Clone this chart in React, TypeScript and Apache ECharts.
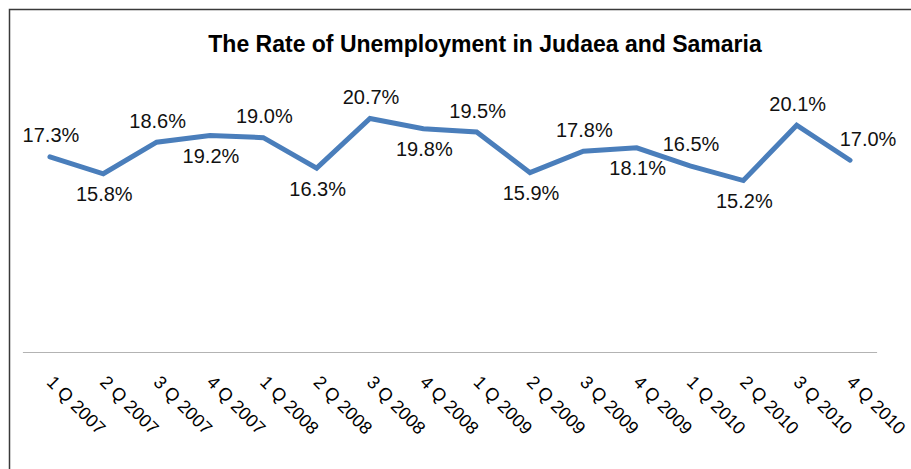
import React, { useEffect, useRef } from "react";
import * as echarts from "echarts";

const categories = [
  "1 Q 2007", "2 Q 2007", "3 Q 2007", "4 Q 2007",
  "1 Q 2008", "2 Q 2008", "3 Q 2008", "4 Q 2008",
  "1 Q 2009", "2 Q 2009", "3 Q 2009", "4 Q 2009",
  "1 Q 2010", "2 Q 2010", "3 Q 2010", "4 Q 2010",
];
const unemploymentRate = [
  17.3, 15.8, 18.6, 19.2, 19.0, 16.3, 20.7, 19.8,
  19.5, 15.9, 17.8, 18.1, 16.5, 15.2, 20.1, 17.0,
];
const titleText = "The Rate of Unemployment in Judaea and Samaria";

const FONT = "'Liberation Sans', Arial, sans-serif";

export default function App() {
  const ref = useRef<HTMLDivElement>(null);
  useEffect(() => {
    if (!ref.current) return;
    const chart = echarts.init(ref.current, undefined, { renderer: "svg" });
    const last = unemploymentRate.length - 1;
    const data = unemploymentRate.map((v, i) => {
      const above = i === last || i % 2 === 0;
      return {
        value: v,
        label: above
          ? { position: "top", distance: 11, offset: i === last ? [18, 0] : [1, 0] }
          : { position: "bottom", distance: 10, offset: [1, 0] },
      };
    });
    chart.setOption({
      animation: false,
      backgroundColor: "#ffffff",
      title: {
        text: titleText,
        left: 480,
        top: 27,
        textAlign: "center",
        textStyle: { fontFamily: FONT, fontSize: 23, fontWeight: "bold", color: "#000000" },
      },
      graphic: [
        {
          type: "rect",
          shape: { x: 9.5, y: 9.5, width: 1200, height: 1200 },
          style: { fill: "none", stroke: "#3a3a3a", lineWidth: 1.5 },
          silent: true,
        },
      ],
      grid: {
        left: 23.3,
        right: 34.3,
        top: 70,
        bottom: 117,
        containLabel: false,
        outerBoundsMode: "none",
      },
      xAxis: {
        type: "category",
        data: categories,
        boundaryGap: true,
        axisLine: { show: true, lineStyle: { color: "#b3b3b3", width: 1 } },
        axisTick: { show: false },
        axisLabel: {
          interval: 0,
          rotate: -45,
          margin: 27,
          fontFamily: FONT,
          fontSize: 18,
          color: "#000000",
        },
        splitLine: { show: false },
      },
      yAxis: {
        type: "value",
        min: 0,
        max: 25,
        show: false,
        splitLine: { show: false },
      },
      series: [
        {
          type: "line",
          data,
          showSymbol: true,
          symbol: "circle",
          symbolSize: 1,
          itemStyle: { color: "#4A7EBB" },
          lineStyle: { color: "#4A7EBB", width: 5, cap: "round", join: "miter" },
          label: {
            show: true,
            fontFamily: FONT,
            fontSize: 20,
            color: "#111111",
            formatter: (p: any) => Number(p.value).toFixed(1) + "%",
          },
        },
      ],
    });
    return () => chart.dispose();
  }, []);
  return (
    <div
      ref={ref}
      style={{ position: "fixed", left: 0, top: 0, width: 911, height: 469 }}
    />
  );
}
